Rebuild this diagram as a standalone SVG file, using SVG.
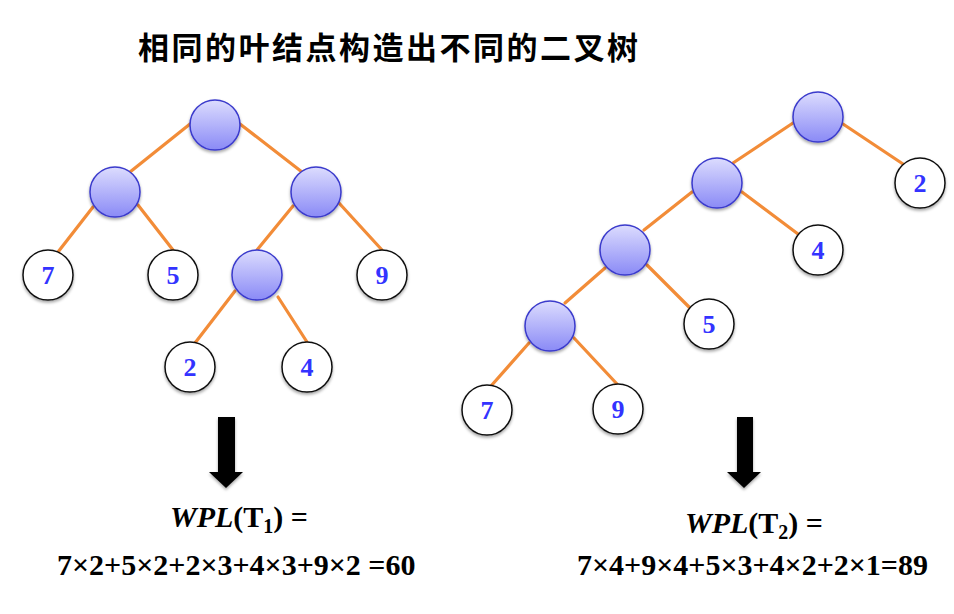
<svg xmlns="http://www.w3.org/2000/svg" width="954" height="614" viewBox="0 0 954 614">
<defs>
<linearGradient id="ig" x1="0" y1="0" x2="0" y2="1">
<stop offset="0" stop-color="#dcdcfe"/>
<stop offset="1" stop-color="#8a8af6"/>
</linearGradient>
<filter id="sh" x="-30%" y="-30%" width="160%" height="170%">
<feDropShadow dx="0" dy="2" stdDeviation="1.5" flood-color="#000" flood-opacity="0.35"/>
</filter>
<style>
.in{fill:url(#ig);stroke:#3a3acc;stroke-width:1.5;filter:url(#sh)}
.lf{fill:#fff;stroke:#111;stroke-width:1.5;filter:url(#sh)}
.lb{font-family:"Liberation Serif","Times New Roman",serif;font-weight:bold;font-size:26px;fill:#3333ff;text-anchor:middle}
.ed line{stroke:#f28c38;stroke-width:3.2;stroke-linecap:round}
.fm{font-family:"Liberation Serif","Times New Roman",serif;font-weight:bold;font-size:30px;fill:#000}
.ar{fill:#000;filter:url(#sh)}
</style>
</defs>
<rect width="954" height="614" fill="#fff"/>
<text x="138" y="59" font-family="'Noto Sans CJK SC',sans-serif" font-weight="bold" font-size="31" textLength="500" lengthAdjust="spacing" fill="#000">相同的叶结点构造出不同的二叉树</text>

<g id="connectors" class="ed">
<line x1="190" y1="124" x2="130" y2="172"/>
<line x1="240" y1="124" x2="302" y2="172"/>
<line x1="93" y1="207" x2="58" y2="252"/>
<line x1="138" y1="205" x2="173" y2="250"/>
<line x1="293" y1="206" x2="257" y2="250"/>
<line x1="339" y1="203" x2="382" y2="250"/>
<line x1="235" y1="291" x2="195" y2="343"/>
<line x1="278" y1="297" x2="307" y2="342"/>
<line x1="793" y1="123" x2="733" y2="163"/>
<line x1="843" y1="124" x2="903" y2="164"/>
<line x1="692" y1="192" x2="644" y2="230"/>
<line x1="742" y1="192" x2="798" y2="234"/>
<line x1="605" y1="268" x2="565" y2="303"/>
<line x1="647" y1="265" x2="689" y2="307"/>
<line x1="529" y1="343" x2="491" y2="386"/>
<line x1="574" y1="338" x2="617" y2="384"/>
</g>

<g id="t1-root"><circle class="in" cx="215" cy="125" r="25"/></g>
<g id="t1-a"><circle class="in" cx="115" cy="192" r="25"/></g>
<g id="t1-b"><circle class="in" cx="316" cy="192" r="25"/></g>
<g id="t1-c"><circle class="in" cx="257" cy="275" r="25"/></g>
<g id="t1-7"><circle class="lf" cx="48" cy="275" r="25"/><text class="lb" x="48" y="284">7</text></g>
<g id="t1-5"><circle class="lf" cx="173" cy="275" r="25"/><text class="lb" x="173" y="284">5</text></g>
<g id="t1-9"><circle class="lf" cx="382" cy="275" r="25"/><text class="lb" x="382" y="284">9</text></g>
<g id="t1-2"><circle class="lf" cx="190" cy="367" r="25"/><text class="lb" x="190" y="376">2</text></g>
<g id="t1-4"><circle class="lf" cx="307" cy="367" r="25"/><text class="lb" x="307" y="376">4</text></g>

<g id="t2-root"><circle class="in" cx="818" cy="117" r="25"/></g>
<g id="t2-a"><circle class="in" cx="717" cy="183" r="25"/></g>
<g id="t2-b"><circle class="in" cx="625" cy="250" r="25"/></g>
<g id="t2-c"><circle class="in" cx="550" cy="326" r="25"/></g>
<g id="t2-2"><circle class="lf" cx="920" cy="183" r="25"/><text class="lb" x="920" y="192">2</text></g>
<g id="t2-4"><circle class="lf" cx="818" cy="250" r="25"/><text class="lb" x="818" y="259">4</text></g>
<g id="t2-5"><circle class="lf" cx="709" cy="324" r="25"/><text class="lb" x="709" y="333">5</text></g>
<g id="t2-7"><circle class="lf" cx="487" cy="410" r="25"/><text class="lb" x="487" y="419">7</text></g>
<g id="t2-9"><circle class="lf" cx="618" cy="409" r="25"/><text class="lb" x="618" y="418">9</text></g>

<g id="arrow1"><polygon class="ar" points="218,417 235,417 235,472 243,472 226,488 209,472 218,472"/></g>
<g id="arrow2"><polygon class="ar" points="737,417 753,417 753,472 761,472 744,488 727,472 737,472"/></g>

<g id="wpl1">
<text class="fm" x="170" y="527"><tspan font-style="italic">WPL</tspan>(T<tspan font-size="20" dy="6">1</tspan><tspan dy="-6">) =</tspan></text>
<text class="fm" x="57" y="575">7×2+5×2+2×3+4×3+9×2 =60</text>
</g>
<g id="wpl2">
<text class="fm" x="685" y="533"><tspan font-style="italic">WPL</tspan>(T<tspan font-size="20" dy="6">2</tspan><tspan dy="-6">) =</tspan></text>
<text class="fm" x="577" y="575">7×4+9×4+5×3+4×2+2×1=89</text>
</g>
</svg>
